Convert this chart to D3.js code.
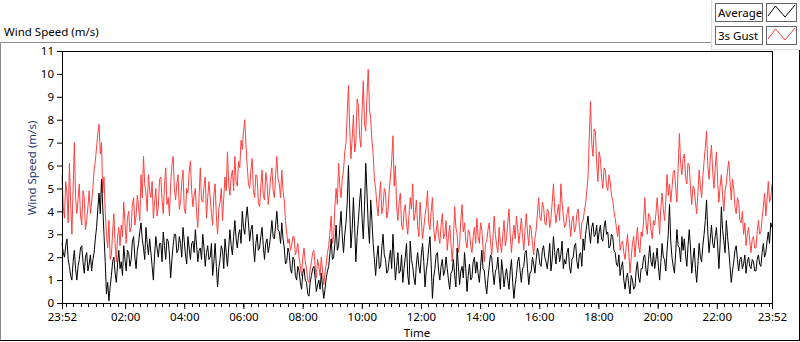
<!DOCTYPE html>
<html>
<head>
<meta charset="utf-8">
<script src="https://cdn.jsdelivr.net/npm/d3@7"></script>
<style>
  html, body { margin: 0; padding: 0; background: #fff; }
  svg text { font-family: 'Noto Sans', 'DejaVu Sans', sans-serif; }
</style>
</head>
<body>
<div id="chart-area"></div>
<script>
// ########################################
// DATA (2.5 min steps from 23:52)
// ########################################

const gustSeries = [
  5.6, 4.2, 3.7, 5.3, 4.8, 3.5, 6.1, 4.4, 3.0, 5.0, 7.0, 4.6, 3.9, 4.5, 5.2, 3.8, 3.4, 4.9, 4.6, 3.2, 3.6, 4.2, 4.9, 3.9,
  4.4, 5.0, 5.8, 6.2, 6.8, 7.4, 7.8, 6.5, 7.0, 4.8, 5.5, 4.0, 3.0, 2.4, 3.6, 1.9, 2.1, 3.1, 3.9, 2.6, 1.8, 2.9, 3.3, 2.5,
  3.4, 2.9, 4.4, 3.5, 2.6, 3.7, 4.0, 3.1, 3.3, 4.3, 4.6, 3.4, 3.8, 4.7, 4.2, 3.6, 5.6, 4.6, 6.4, 5.2, 4.8, 4.0, 5.6, 4.9,
  4.6, 5.3, 3.7, 4.4, 5.0, 3.8, 4.2, 5.4, 5.5, 4.5, 3.9, 5.1, 5.9, 4.3, 4.6, 3.8, 5.2, 6.0, 6.4, 5.0, 4.5, 5.2, 5.6, 4.1,
  4.4, 5.3, 5.8, 4.1, 3.9, 5.0, 4.8, 5.7, 6.2, 4.9, 4.2, 4.7, 5.0, 3.9, 3.3, 4.6, 5.9, 4.5, 4.4, 5.1, 5.5, 3.7, 4.6, 5.3,
  4.6, 3.9, 3.4, 4.7, 5.2, 3.8, 3.0, 4.1, 4.4, 5.0, 3.6, 4.6, 5.5, 4.9, 6.6, 5.2, 4.7, 5.5, 5.8, 4.9, 6.4, 5.3, 5.1, 6.2,
  5.9, 7.1, 6.7, 7.5, 8.0, 6.9, 6.0, 5.2, 5.0, 5.8, 6.3, 4.9, 4.6, 5.6, 5.5, 4.4, 4.2, 5.1, 5.8, 4.7, 4.5, 5.7, 5.3, 4.3,
  4.8, 5.5, 5.9, 4.9, 4.6, 5.6, 6.4, 5.4, 5.2, 4.6, 5.8, 4.9, 4.5, 3.6, 3.0, 2.6, 2.8, 2.3, 2.5, 2.9, 2.9, 2.1, 2.3, 2.6,
  2.0, 1.6, 1.2, 2.0, 2.4, 1.8, 1.5, 1.0, 0.9, 1.5, 1.8, 2.2, 2.3, 1.6, 1.1, 1.9, 1.6, 1.2, 2.0, 1.4, 0.8, 1.3, 1.7, 2.2,
  2.5, 3.1, 3.8, 2.6, 2.9, 4.2, 5.0, 4.3, 6.1, 5.1, 4.6, 5.4, 5.8, 6.6, 7.0, 8.3, 9.5, 7.6, 6.3, 7.2, 8.2, 6.6, 7.0, 8.9,
  8.6, 7.3, 6.8, 8.4, 9.7, 7.8, 7.5, 9.0, 10.2, 8.5, 8.0, 7.1, 6.5, 5.4, 5.0, 4.3, 3.8, 4.6, 5.3, 3.9, 4.2, 5.0, 4.8, 3.7,
  4.0, 4.9, 5.5, 6.2, 7.3, 5.1, 6.0, 4.2, 3.6, 4.4, 4.8, 3.4, 3.2, 4.0, 4.3, 3.5, 3.0, 3.8, 4.6, 4.1, 5.2, 3.6, 3.9, 4.5,
  3.4, 2.9, 4.4, 3.6, 2.8, 3.3, 3.8, 4.2, 4.9, 3.5, 3.2, 4.0, 4.6, 3.3, 2.7, 3.1, 3.6, 2.9, 2.6, 3.4, 3.9, 2.8, 3.0, 3.6,
  2.3, 2.9, 3.4, 2.6, 1.8, 2.7, 4.2, 3.3, 3.0, 2.2, 2.6, 3.6, 4.3, 3.1, 3.5, 2.7, 2.4, 3.2, 3.1, 2.5, 2.2, 2.9, 3.3, 2.6,
  3.7, 2.9, 2.6, 3.5, 3.2, 2.4, 1.8, 2.6, 2.7, 3.2, 3.5, 2.7, 2.1, 2.8, 3.8, 3.0, 2.5, 2.2, 3.3, 2.6, 2.2, 3.0, 3.6, 2.5,
  2.8, 3.5, 4.1, 3.0, 2.2, 2.9, 3.4, 2.8, 3.8, 3.3, 2.6, 3.1, 3.7, 2.9, 2.3, 3.2, 3.9, 3.1, 2.5, 3.4, 3.2, 2.6, 2.1, 2.8,
  3.2, 3.9, 4.6, 3.7, 3.6, 4.4, 4.2, 3.5, 3.4, 4.1, 4.0, 3.3, 3.7, 4.4, 5.2, 4.1, 3.5, 3.9, 4.3, 3.6, 5.2, 4.4, 3.8, 3.3,
  3.4, 3.9, 4.2, 3.5, 2.9, 3.6, 3.8, 3.1, 3.3, 3.9, 4.1, 3.4, 2.8, 3.5, 3.6, 4.0, 4.3, 4.9, 5.5, 7.2, 8.8, 7.0, 6.4, 7.6,
  7.5, 6.1, 5.3, 6.6, 6.3, 5.5, 5.0, 5.9, 5.8, 5.1, 4.9, 5.6, 5.3, 4.7, 4.5, 4.0, 3.7, 3.3, 2.9, 3.4, 2.3, 2.6, 2.7, 2.2,
  1.9, 2.5, 3.0, 2.2, 1.3, 2.0, 2.6, 2.9, 2.0, 2.7, 3.3, 2.5, 2.2, 3.1, 2.9, 3.6, 4.6, 3.5, 3.0, 3.9, 3.8, 3.2, 2.8, 3.6,
  3.4, 3.9, 4.6, 3.8, 3.0, 4.2, 4.8, 4.1, 3.6, 4.5, 5.6, 4.7, 5.2, 4.4, 5.0, 5.7, 5.8, 5.0, 4.4, 5.9, 7.4, 6.1, 5.6, 6.3,
  6.5, 5.5, 5.2, 6.1, 6.0, 5.0, 4.3, 5.1, 5.0, 4.4, 3.9, 4.8, 5.8, 5.1, 4.6, 5.5, 6.2, 6.8, 7.5, 6.0, 5.4, 6.3, 6.9, 5.7,
  5.0, 5.9, 6.6, 5.3, 4.4, 5.1, 5.6, 4.7, 4.0, 4.9, 5.2, 5.8, 6.2, 5.3, 4.5, 5.4, 5.0, 4.2, 3.9, 4.6, 4.4, 3.6, 3.5, 4.0,
  3.0, 3.5, 2.5, 3.0, 3.3, 2.7, 2.2, 2.8, 2.9, 2.4, 2.4, 3.1, 3.6, 3.0, 3.1, 3.7, 4.2, 4.8, 3.8, 4.5, 5.3, 4.4, 4.6, 5.2
];

const averageSeries = [
  2.6, 2.2, 2.0, 2.5, 2.8, 1.9, 1.6, 1.2, 1.0, 1.8, 2.3, 1.5, 1.0, 1.6, 1.9, 2.4, 2.5, 1.8, 1.3, 2.0, 2.2, 1.4, 1.7, 2.1,
  1.4, 1.9, 2.2, 2.8, 3.3, 4.1, 4.8, 3.9, 5.4, 4.2, 3.0, 1.8, 0.4, 0.9, 0.1, 0.7, 1.2, 1.8, 2.0, 1.3, 0.9, 1.7, 2.3, 1.5,
  1.8, 1.2, 2.5, 1.9, 1.4, 2.3, 2.2, 1.6, 1.9, 2.7, 2.9, 2.0, 1.5, 2.3, 2.6, 3.1, 3.5, 2.8, 2.4, 1.9, 3.3, 2.6, 2.1, 2.8,
  2.2, 1.6, 1.0, 2.1, 2.9, 2.4, 2.0, 2.6, 2.6, 1.8, 3.1, 2.5, 1.9, 2.8, 2.7, 2.1, 1.1, 1.9, 2.5, 3.0, 3.0, 2.2, 2.3, 2.9,
  2.6, 2.0, 3.3, 2.7, 2.1, 1.7, 2.9, 2.4, 1.9, 2.6, 2.7, 2.2, 3.2, 2.5, 1.8, 2.3, 2.4, 1.9, 3.0, 2.4, 1.6, 2.2, 2.5, 1.9,
  2.0, 2.6, 1.2, 1.8, 2.6, 1.6, 0.7, 1.5, 1.9, 2.5, 2.3, 1.5, 2.8, 2.2, 1.6, 2.4, 3.2, 2.5, 2.1, 2.9, 3.6, 2.8, 2.4, 3.0,
  3.2, 2.6, 4.0, 3.3, 3.0, 3.7, 4.2, 3.5, 2.7, 3.2, 3.4, 2.5, 1.8, 2.6, 3.0, 2.3, 2.4, 2.9, 3.3, 2.5, 1.9, 2.6, 2.8, 2.2,
  2.5, 3.0, 3.6, 2.9, 2.8, 3.4, 4.0, 3.2, 3.1, 2.6, 3.5, 2.8, 2.4, 1.7, 1.8, 2.4, 2.2, 1.5, 1.3, 2.0, 1.9, 1.2, 1.0, 1.6,
  1.4, 0.9, 0.6, 1.3, 1.5, 1.0, 0.9, 0.4, 0.3, 0.9, 1.2, 1.5, 1.6, 1.1, 0.5, 0.8, 1.0, 0.6, 1.3, 0.7, 0.2, 0.6, 1.1, 1.4,
  1.6, 2.2, 2.8, 1.9, 2.0, 2.6, 3.4, 2.3, 2.5, 3.3, 4.0, 2.9, 2.2, 3.0, 3.5, 4.4, 6.0, 4.1, 2.4, 3.2, 4.6, 3.3, 1.8, 2.9,
  3.6, 4.4, 5.0, 3.7, 2.8, 4.2, 6.1, 4.8, 3.4, 2.6, 4.5, 3.6, 2.6, 1.9, 1.2, 2.0, 2.5, 1.5, 1.6, 2.4, 3.0, 2.1, 1.9, 1.3,
  1.4, 1.9, 2.3, 1.5, 3.0, 2.0, 1.0, 1.6, 2.2, 1.3, 1.4, 2.1, 0.9, 1.5, 2.0, 2.6, 1.2, 0.8, 2.7, 1.9, 1.6, 1.1, 0.8, 1.7,
  2.2, 1.6, 1.3, 2.1, 2.6, 1.8, 0.7, 1.4, 1.8, 2.4, 2.9, 1.7, 0.2, 1.1, 1.5, 2.1, 2.2, 1.4, 1.0, 1.6, 1.9, 1.2, 1.4, 2.0,
  1.5, 1.0, 0.6, 1.3, 1.4, 1.9, 1.2, 0.7, 2.4, 1.6, 0.8, 1.4, 1.6, 1.1, 2.2, 1.5, 0.5, 1.2, 1.7, 1.0, 1.1, 1.8, 2.0, 1.3,
  1.8, 1.3, 0.9, 1.6, 2.3, 1.5, 1.4, 0.8, 0.4, 1.1, 1.6, 2.1, 2.0, 1.3, 0.8, 1.4, 1.5, 2.0, 1.2, 0.6, 1.9, 1.4, 0.7, 1.2,
  1.5, 1.0, 0.6, 1.4, 1.9, 0.9, 0.2, 0.8, 1.2, 1.8, 2.0, 1.4, 0.9, 1.5, 1.6, 2.2, 2.3, 1.5, 0.8, 1.3, 1.4, 2.0, 1.7, 1.3,
  1.9, 2.4, 2.2, 1.7, 1.6, 2.3, 2.5, 2.0, 1.8, 1.5, 2.0, 2.6, 1.4, 1.9, 2.9, 2.2, 1.7, 2.3, 2.4, 1.8, 2.1, 2.7, 1.5, 1.9,
  1.7, 2.2, 2.4, 1.6, 1.3, 1.9, 2.0, 2.5, 2.6, 1.8, 1.5, 2.1, 2.2, 1.6, 2.8, 2.3, 3.0, 3.4, 3.8, 3.1, 2.6, 3.3, 3.5, 2.9,
  3.0, 3.4, 2.6, 3.1, 3.4, 2.8, 2.7, 3.3, 3.6, 3.0, 3.1, 2.4, 2.5, 3.0, 2.9, 2.3, 2.2, 1.7, 1.6, 2.1, 1.2, 1.6, 1.8, 1.0,
  0.6, 1.1, 1.3, 0.8, 0.4, 1.2, 1.0, 0.6, 0.7, 1.4, 1.8, 1.1, 0.9, 1.5, 1.5, 2.0, 2.1, 1.4, 1.2, 1.9, 2.5, 1.8, 1.6, 2.2,
  1.5, 1.9, 2.4, 1.6, 1.0, 1.8, 2.6, 2.0, 1.9, 1.4, 2.3, 3.0, 4.3, 2.7, 2.0, 1.6, 1.3, 2.2, 3.2, 2.5, 2.4, 1.8, 2.9, 2.3,
  2.8, 2.1, 1.6, 2.5, 3.2, 2.4, 1.3, 1.9, 2.4, 1.5, 0.9, 1.7, 2.6, 2.0, 1.8, 2.5, 3.0, 3.6, 4.5, 3.1, 2.2, 2.8, 3.4, 2.6,
  2.4, 2.9, 3.3, 2.5, 1.5, 2.6, 4.2, 3.2, 2.7, 2.2, 3.6, 2.9, 2.3, 1.6, 0.9, 1.4, 1.8, 2.3, 2.5, 1.9, 1.4, 1.9, 2.0, 1.5,
  1.7, 2.1, 1.3, 1.8, 2.0, 1.6, 1.5, 1.9, 1.8, 1.4, 1.4, 1.9, 2.1, 1.7, 1.6, 2.2, 2.6, 2.0, 2.2, 2.7, 3.1, 2.6, 3.5, 3.3
];

const yTickValues = [0, 1, 2, 3, 4, 5, 6, 7, 8, 9, 10, 11];
const xTickLabels = ['23:52', '02:00', '04:00', '06:00', '08:00', '10:00', '12:00',
  '14:00', '16:00', '18:00', '20:00', '22:00', '23:52'];
const legendNames = ['Average', '3s Gust'];
const seriesColors = ['#000000', '#ff4040'];

// ########################################
// TARGET DOM/SELECTOR, SET BOUNDARIES
// ########################################

const W = 800, H = 342;
const plot = { left: 62, right: 772, top: 51, bottom: 303 };
const fontSize = '11.5px';

const svg = d3.select('#chart-area')
  .append('svg')
  .attr('width', W)
  .attr('height', H);

// time domain: 23:52 to 23:52 next day
const t0 = new Date(2020, 0, 1, 23, 52);
const t1 = new Date(2020, 0, 2, 23, 52);

const x = d3.scaleTime()
  .domain([t0, t1])
  .range([plot.left, plot.right]);

const y = d3.scaleLinear()
  .domain([0, 11])
  .range([plot.bottom, plot.top]);

// sample index -> timestamp, evenly spread over the day
const timeAt = (i, n) => new Date(+t0 + i * (t1 - t0) / (n - 1));

// ########################################
// OUTER FRAME + TITLE
// ########################################

svg.append('text')
  .attr('x', 4)
  .attr('y', 36)
  .attr('font-size', fontSize)
  .attr('fill', '#000')
  .text('Wind Speed (m/s)');

svg.append('line')
  .attr('x1', 0).attr('x2', 711)
  .attr('y1', 42.5).attr('y2', 42.5)
  .attr('stroke', '#8c8c8c');
svg.append('line')
  .attr('x1', 0.5).attr('x2', 0.5)
  .attr('y1', 42).attr('y2', 341)
  .attr('stroke', '#8c8c8c');
svg.append('line')
  .attr('x1', 0).attr('x2', 800)
  .attr('y1', 340.5).attr('y2', 340.5)
  .attr('stroke', '#000');
svg.append('line')
  .attr('x1', 799.5).attr('x2', 799.5)
  .attr('y1', 49).attr('y2', 341)
  .attr('stroke', '#000');

// legend panel edges
svg.append('line')
  .attr('x1', 711.5).attr('x2', 711.5)
  .attr('y1', 0).attr('y2', 49.5)
  .attr('stroke', '#dcdcdc');
svg.append('line')
  .attr('x1', 711).attr('x2', 800)
  .attr('y1', 49.5).attr('y2', 49.5)
  .attr('stroke', '#dcdcdc');

// ########################################
// AXES
// ########################################

// y axis
const yAxis = svg.append('g')
  .attr('class', 'y-axis')
  .attr('transform', 'translate(' + plot.left + ',0)')
  .call(d3.axisLeft(y).tickValues(yTickValues).tickSize(5).tickPadding(3).tickSizeOuter(0));
yAxis.select('.domain').remove();
yAxis.selectAll('text').attr('font-size', fontSize).attr('fill', '#000')
  .attr('font-family', "'Noto Sans', sans-serif");
yAxis.selectAll('line').attr('stroke', '#000');

// x axis - major ticks at the two ends and every 2 hours from 02:00
const majorTicks = [t0].concat(d3.timeHour.every(2).range(new Date(2020, 0, 2, 0, 1), t1), [t1]);
const minorTicks = d3.timeMinute.every(15).range(t0, t1);

svg.append('g')
  .attr('class', 'x-minor')
  .selectAll('line')
  .data(minorTicks)
  .enter()
  .append('line')
  .attr('x1', d => Math.round(x(d)) + 0.5)
  .attr('x2', d => Math.round(x(d)) + 0.5)
  .attr('y1', plot.bottom)
  .attr('y2', plot.bottom + 4)
  .attr('stroke', '#000');

const xAxis = svg.append('g')
  .attr('class', 'x-axis')
  .attr('transform', 'translate(0,' + plot.bottom + ')')
  .call(d3.axisBottom(x)
    .tickValues(majorTicks)
    .tickFormat((d, i) => xTickLabels[i])
    .tickSize(6)
    .tickPadding(4)
    .tickSizeOuter(0));
xAxis.select('.domain').remove();
xAxis.selectAll('text').attr('font-size', fontSize).attr('fill', '#000')
  .attr('font-family', "'Noto Sans', sans-serif");
xAxis.selectAll('line').attr('stroke', '#000');

// axis labels
svg.append('text')
  .attr('x', (plot.left + plot.right) / 2)
  .attr('y', 337)
  .attr('font-size', fontSize)
  .attr('text-anchor', 'middle')
  .attr('fill', '#000')
  .text('Time');

svg.append('text')
  .attr('transform', 'translate(36,168) rotate(-90)')
  .attr('font-size', fontSize)
  .attr('text-anchor', 'middle')
  .attr('fill', '#1d3a72')
  .text('Wind Speed (m/s)');

// ########################################
// PLOT AREA + LINES
// ########################################

svg.append('rect')
  .attr('x', plot.left + 0.5)
  .attr('y', plot.top + 0.5)
  .attr('width', plot.right - plot.left)
  .attr('height', plot.bottom - plot.top)
  .attr('fill', '#fff')
  .attr('stroke', '#000');

const line = d3.line()
  .x((d, i, arr) => x(timeAt(i, arr.length)))
  .y(d => y(d));

// gust drawn first, average on top
svg.append('path')
  .datum(gustSeries)
  .attr('fill', 'none')
  .attr('stroke', seriesColors[1])
  .attr('stroke-width', 1)
  .attr('d', line);

svg.append('path')
  .datum(averageSeries)
  .attr('fill', 'none')
  .attr('stroke', seriesColors[0])
  .attr('stroke-width', 1)
  .attr('d', line);

// redraw frame on top
svg.append('rect')
  .attr('x', plot.left + 0.5)
  .attr('y', plot.top + 0.5)
  .attr('width', plot.right - plot.left)
  .attr('height', plot.bottom - plot.top)
  .attr('fill', 'none')
  .attr('stroke', '#000');

// ########################################
// LEGEND
// ########################################

const legend = svg.append('g').attr('class', 'legend');

legendNames.forEach((name, i) => {
  const top = 3 + i * 23;
  const item = legend.append('g');

  item.append('rect')
    .attr('x', 715.5).attr('y', top + 0.5)
    .attr('width', 47).attr('height', 18)
    .attr('fill', '#fff')
    .attr('stroke', '#646464');
  item.append('text')
    .attr('x', 718)
    .attr('y', top + 14)
    .attr('font-size', fontSize)
    .attr('fill', '#000')
    .text(name);

  item.append('rect')
    .attr('x', 766.5).attr('y', top + 0.5)
    .attr('width', 30).attr('height', 18)
    .attr('fill', '#fff')
    .attr('stroke', '#646464');
  item.append('path')
    .attr('d', 'M768,' + (top + 13) + 'L775.5,' + (top + 3) + 'L785,' + (top + 14) + 'L795,' + (top + 2))
    .attr('fill', 'none')
    .attr('stroke', seriesColors[i]);
});
</script>
</body>
</html>
